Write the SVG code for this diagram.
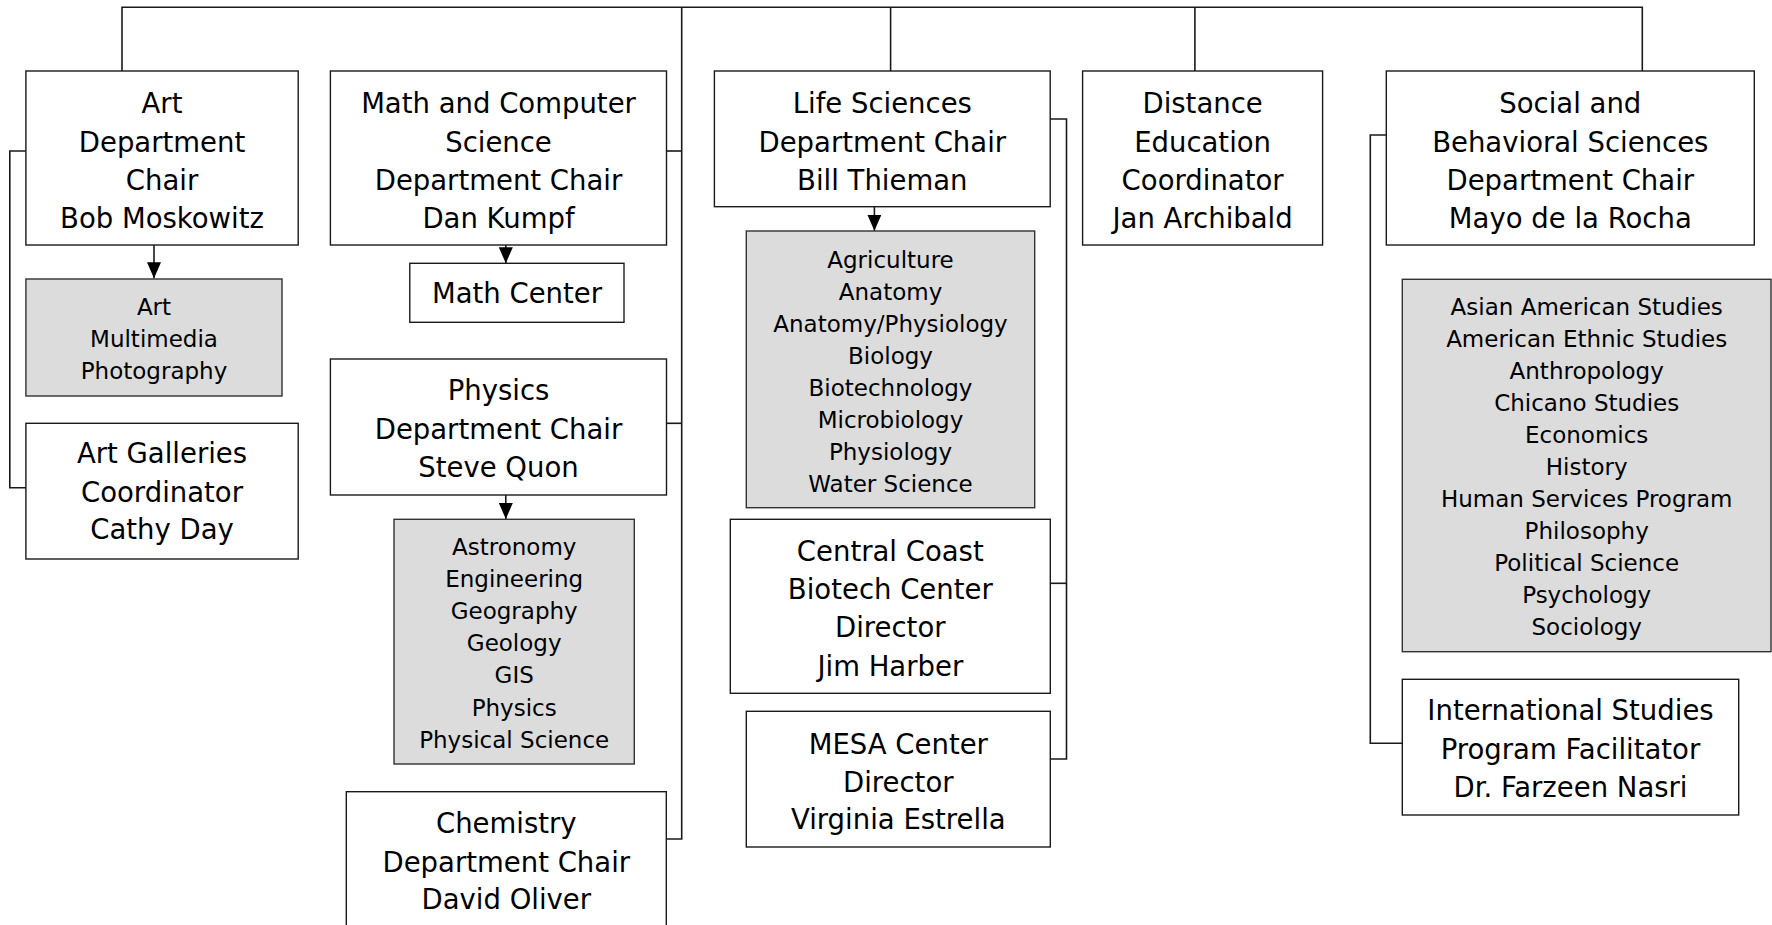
<svg xmlns="http://www.w3.org/2000/svg" width="1772" height="925" viewBox="0 0 1772 925">
<style>
.box{fill:#fff;stroke:#1a1a1a;stroke-width:1.4}
.sh{fill:#dcdcdc;stroke:#333;stroke-width:1.4}
.t{font-family:"DejaVu Sans",sans-serif;font-size:27.5px;fill:#000;text-anchor:middle}
.s{font-family:"DejaVu Sans",sans-serif;font-size:23px;fill:#000;text-anchor:middle}
.c{fill:none;stroke:#1a1a1a;stroke-width:1.6}
</style>
<defs>
<marker id="ah" markerUnits="userSpaceOnUse" markerWidth="14" markerHeight="16" refX="7" refY="16" orient="0" viewBox="0 0 14 16">
<path d="M0,0 L14,0 L7,16 z" fill="#000"/>
</marker>
</defs>
<rect width="1772" height="925" fill="#fff"/>
<g id="connectors">
<path class="c" d="M122,71 V7.3 H1642.3 V71"/>
<path class="c" d="M681.7,7.3 V839 H666.3"/>
<path class="c" d="M666.5,151 H681.7"/>
<path class="c" d="M666.5,423.3 H681.7"/>
<path class="c" d="M890.6,7.3 V71"/>
<path class="c" d="M1194.9,7.3 V71"/>
<path class="c" d="M25.9,151 H9.8 V487.7 H25.9"/>
<path class="c" d="M1050.2,119 H1066.5 V759 H1050.3"/>
<path class="c" d="M1050.3,583.3 H1066.5"/>
<path class="c" d="M1386.3,135 H1370.3 V743.3 H1402.3"/>
<path class="c" d="M154,245 V278.3" marker-end="url(#ah)"/>
<path class="c" d="M505.8,245 V263.3" marker-end="url(#ah)"/>
<path class="c" d="M505.8,495 V519" marker-end="url(#ah)"/>
<path class="c" d="M874.4,206.7 V230.8" marker-end="url(#ah)"/>
</g>
<g id="art">
<rect class="box" x="25.9" y="71" width="272.3" height="174"/>
<text class="t" x="162" y="112.7">Art</text>
<text class="t" x="162" y="151.7">Department</text>
<text class="t" x="162" y="190">Chair</text>
<text class="t" x="162" y="227.7">Bob Moskowitz</text>
</g>
<g id="art-programs">
<rect class="sh" x="25.9" y="279" width="256.1" height="117"/>
<text class="s" x="154" y="315">Art</text>
<text class="s" x="154" y="347">Multimedia</text>
<text class="s" x="154" y="379">Photography</text>
</g>
<g id="art-galleries">
<rect class="box" x="25.9" y="423.3" width="272.3" height="135.7"/>
<text class="t" x="162" y="463.3">Art Galleries</text>
<text class="t" x="162" y="501.7">Coordinator</text>
<text class="t" x="162" y="539.3">Cathy Day</text>
</g>
<g id="math">
<rect class="box" x="330.4" y="71" width="336.1" height="174"/>
<text class="t" x="498.5" y="112.7">Math and Computer</text>
<text class="t" x="498.5" y="151.7">Science</text>
<text class="t" x="498.5" y="190">Department Chair</text>
<text class="t" x="498.5" y="227.7">Dan Kumpf</text>
</g>
<g id="math-center">
<rect class="box" x="409.8" y="263.3" width="214.2" height="59"/>
<text class="t" x="517" y="303.3">Math Center</text>
</g>
<g id="physics">
<rect class="box" x="330.4" y="359" width="336.1" height="136"/>
<text class="t" x="498.5" y="400">Physics</text>
<text class="t" x="498.5" y="438.7">Department Chair</text>
<text class="t" x="498.5" y="477">Steve Quon</text>
</g>
<g id="physics-programs">
<rect class="sh" x="394" y="519.3" width="240.3" height="244.7"/>
<text class="s" x="514.2" y="555">Astronomy</text>
<text class="s" x="514.2" y="587.1">Engineering</text>
<text class="s" x="514.2" y="619.2">Geography</text>
<text class="s" x="514.2" y="651.3">Geology</text>
<text class="s" x="514.2" y="683.4">GIS</text>
<text class="s" x="514.2" y="715.5">Physics</text>
<text class="s" x="514.2" y="747.6">Physical Science</text>
</g>
<g id="chemistry">
<rect class="box" x="346.3" y="791.7" width="320" height="200"/>
<text class="t" x="506.3" y="833.3">Chemistry</text>
<text class="t" x="506.3" y="871.7">Department Chair</text>
<text class="t" x="506.3" y="909.3">David Oliver</text>
</g>
<g id="life-sciences">
<rect class="box" x="714.4" y="71" width="335.8" height="135.7"/>
<text class="t" x="882.3" y="112.7">Life Sciences</text>
<text class="t" x="882.3" y="151.7">Department Chair</text>
<text class="t" x="882.3" y="190">Bill Thieman</text>
</g>
<g id="life-programs">
<rect class="sh" x="746.3" y="231" width="288.4" height="276.7"/>
<text class="s" x="890.5" y="267.7">Agriculture</text>
<text class="s" x="890.5" y="299.7">Anatomy</text>
<text class="s" x="890.5" y="331.7">Anatomy/Physiology</text>
<text class="s" x="890.5" y="363.7">Biology</text>
<text class="s" x="890.5" y="395.7">Biotechnology</text>
<text class="s" x="890.5" y="427.7">Microbiology</text>
<text class="s" x="890.5" y="459.7">Physiology</text>
<text class="s" x="890.5" y="491.7">Water Science</text>
</g>
<g id="biotech-center">
<rect class="box" x="730.3" y="519.3" width="320" height="174"/>
<text class="t" x="890.3" y="561">Central Coast</text>
<text class="t" x="890.3" y="599.3">Biotech Center</text>
<text class="t" x="890.3" y="637.3">Director</text>
<text class="t" x="890.3" y="675.7">Jim Harber</text>
</g>
<g id="mesa-center">
<rect class="box" x="746.3" y="711.3" width="304" height="135.7"/>
<text class="t" x="898.3" y="754">MESA Center</text>
<text class="t" x="898.3" y="791.7">Director</text>
<text class="t" x="898.3" y="829.3">Virginia Estrella</text>
</g>
<g id="distance-education">
<rect class="box" x="1082.6" y="71" width="240" height="174"/>
<text class="t" x="1202.6" y="112.7">Distance</text>
<text class="t" x="1202.6" y="151.7">Education</text>
<text class="t" x="1202.6" y="190">Coordinator</text>
<text class="t" x="1202.6" y="227.7">Jan Archibald</text>
</g>
<g id="social-sciences">
<rect class="box" x="1386.3" y="71" width="368" height="174"/>
<text class="t" x="1570.3" y="112.7">Social and</text>
<text class="t" x="1570.3" y="151.7">Behavioral Sciences</text>
<text class="t" x="1570.3" y="190">Department Chair</text>
<text class="t" x="1570.3" y="227.7">Mayo de la Rocha</text>
</g>
<g id="social-programs">
<rect class="sh" x="1402.3" y="279.3" width="368.7" height="372.4"/>
<text class="s" x="1586.7" y="315">Asian American Studies</text>
<text class="s" x="1586.7" y="347">American Ethnic Studies</text>
<text class="s" x="1586.7" y="379">Anthropology</text>
<text class="s" x="1586.7" y="411">Chicano Studies</text>
<text class="s" x="1586.7" y="443">Economics</text>
<text class="s" x="1586.7" y="475">History</text>
<text class="s" x="1586.7" y="507">Human Services Program</text>
<text class="s" x="1586.7" y="539">Philosophy</text>
<text class="s" x="1586.7" y="571">Political Science</text>
<text class="s" x="1586.7" y="603">Psychology</text>
<text class="s" x="1586.7" y="635">Sociology</text>
</g>
<g id="international-studies">
<rect class="box" x="1402.3" y="679.3" width="336.4" height="135.7"/>
<text class="t" x="1570.5" y="720">International Studies</text>
<text class="t" x="1570.5" y="759">Program Facilitator</text>
<text class="t" x="1570.5" y="796.7">Dr. Farzeen Nasri</text>
</g>
</svg>
